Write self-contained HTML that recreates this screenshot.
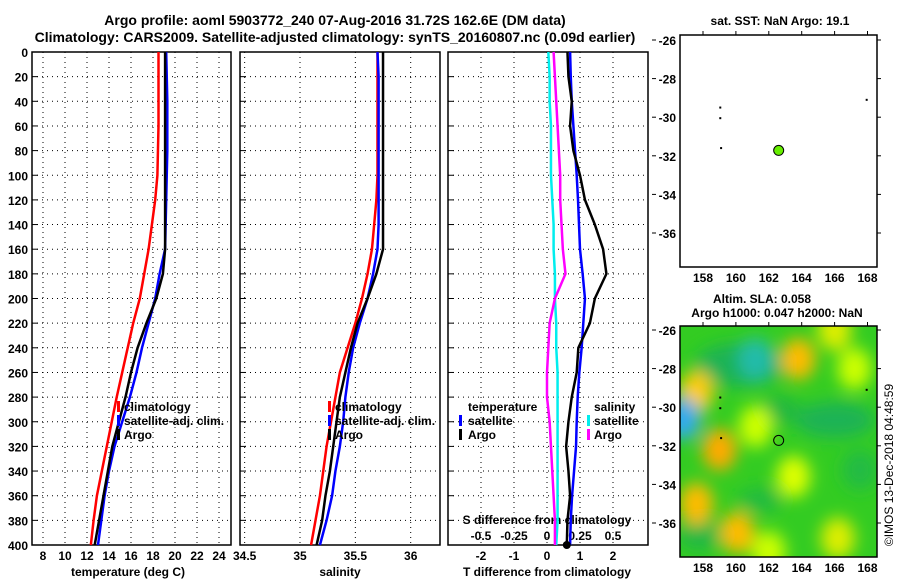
<!DOCTYPE html>
<html><head><meta charset="utf-8"><style>
body{margin:0;background:#fff}
svg{display:block;font-family:"Liberation Sans",sans-serif;font-weight:bold}
</style></head><body>
<svg id="s" width="900" height="580" viewBox="0 0 900 580" xmlns="http://www.w3.org/2000/svg">
<defs>
<filter id="bl" x="-50%" y="-50%" width="200%" height="200%"><feGaussianBlur stdDeviation="8"/></filter>
<clipPath id="mc"><rect x="680" y="326" width="197" height="231"/></clipPath>
</defs>
<text x="335" y="25" font-size="14" text-anchor="middle">Argo profile: aoml 5903772_240 07-Aug-2016 31.72S 162.6E (DM data)</text>
<text x="335" y="42" font-size="14" text-anchor="middle">Climatology: CARS2009. Satellite-adjusted climatology: synTS_20160807.nc (0.09d earlier)</text>
<g id="g"></g>
<text x="780" y="25" font-size="12" text-anchor="middle">sat. SST: NaN Argo: 19.1</text>
<text x="762" y="303" font-size="12" text-anchor="middle">Altim. SLA: 0.058</text>
<text x="777" y="317" font-size="12" text-anchor="middle">Argo h1000: 0.047 h2000: NaN</text>
<text transform="translate(893,465) rotate(-90)" font-size="12" font-weight="normal" text-anchor="middle">©IMOS 13-Dec-2018 04:48:59</text>
</svg>
<script>
const depths=[0,20,40,60,80,100,120,140,160,180,200,220,240,260,280,300,320,340,360,380,400];
const tClim=[18.5,18.5,18.5,18.5,18.45,18.4,18.2,17.9,17.6,17.2,16.8,16.2,15.7,15.2,14.7,14.25,13.8,13.35,12.9,12.6,12.35];
const tSat=[19.2,19.25,19.3,19.3,19.3,19.25,19.2,19.15,19.1,18.6,18.2,17.6,17.0,16.5,15.9,15.2,14.5,14.0,13.6,13.3,13.0];
const tArgo=[19.1,19.1,19.1,19.1,19.1,19.1,19.1,19.1,19.1,18.9,18.3,17.4,16.6,16.0,15.5,14.9,14.3,13.9,13.5,13.1,12.7];
const sClim=[35.70,35.70,35.70,35.70,35.70,35.70,35.69,35.67,35.65,35.61,35.56,35.50,35.43,35.36,35.32,35.28,35.24,35.21,35.18,35.14,35.10];
const sSat=[35.70,35.71,35.71,35.71,35.71,35.71,35.71,35.71,35.70,35.66,35.61,35.54,35.48,35.44,35.41,35.39,35.36,35.32,35.29,35.24,35.18];
const sArgo=[35.75,35.75,35.75,35.75,35.75,35.75,35.75,35.75,35.75,35.69,35.61,35.52,35.46,35.41,35.36,35.33,35.30,35.27,35.23,35.20,35.15];
const dTsat=[0.7,0.72,0.75,0.8,0.85,0.9,0.94,0.97,1.0,1.08,1.15,1.1,1.05,0.98,0.93,0.9,0.88,0.82,0.76,0.72,0.7];
const dTargo=[0.62,0.65,0.75,0.7,0.8,1.0,1.15,1.45,1.7,1.8,1.45,1.3,0.95,0.9,0.75,0.65,0.58,0.65,0.7,0.62,0.6];
const dSargo=[0.05,0.06,0.07,0.08,0.09,0.1,0.1,0.11,0.12,0.14,0.06,0.02,0.01,0.0,0.0,0.02,0.03,0.04,0.05,0.06,0.06];
const dSsat=[0.01,0.02,0.02,0.03,0.03,0.03,0.04,0.05,0.05,0.06,0.06,0.07,0.07,0.08,0.08,0.08,0.08,0.08,0.08,0.08,0.07];
const depthTicks=[0,20,40,60,80,100,120,140,160,180,200,220,240,260,280,300,320,340,360,380,400];
const tTicks=[8,10,12,14,16,18,20,22,24];
const sTicks=[34.5,35,35.5,36];
const dTTicks=[-2,-1,0,1,2];
const dSTicks=[-0.5,-0.25,0,0.25,0.5];
const latTicks=[-26,-28,-30,-32,-34,-36];
const lonTicks=[158,160,162,164,166,168];
const floatPos=[162.6,-31.72];
const islands=[[159.05,-29.5],[159.05,-30.05],[159.1,-31.6],[167.95,-29.1]];
const blobLon=[163.8,157.6,156.8,159.0,163.5,161.2,160.1,166.2,167.2,157.6,161.2,166.0,162.0];
const blobLat=[-27.5,-29.2,-30.6,-32.2,-33.6,-31.0,-36.5,-36.8,-28.0,-35.0,-27.5,-26.0,-37.5];
const blobCol=['#ffbb00','#ffcc00','#33aaee','#ffaa00','#ddff00','#ccff00','#ffbb00','#ddee00','#ccff00','#ffbb00','#22bbaa','#ddee00','#ccff00'];

const NS='http://www.w3.org/2000/svg';
const G=document.getElementById('g');
function mk(t,a,p){const e=document.createElementNS(NS,t);for(const k in a)e.setAttribute(k,a[k]);(p||G).appendChild(e);return e;}
const Y0=52,Y1=545;
const yD=d=>Y0+(d/400)*(Y1-Y0);
const xT=v=>32+(v-7)*11;
const xS=v=>300+(v-35)*110.7;
const xdT=v=>547+v*33;
const xdS=v=>547+v*132;
const panels=[[32,231],[240,440],[448,648]];
function vgrid(xs,name){xs.forEach(x=>{const l=mk('line',{x1:x,y1:Y0,x2:x,y2:Y1,stroke:'#000','stroke-width':1,'stroke-dasharray':'1,4'});});}
vgrid(tTicks.map(xT),'temp-gridline');
vgrid(sTicks.map(xS),'salinity-gridline');
vgrid(dTTicks.map(xdT),'tdiff-gridline');
panels.forEach(([a,b])=>{depthTicks.forEach(d=>{if(d==0||d==400)return;const l=mk('line',{x1:a,y1:yD(d),x2:b,y2:yD(d),stroke:'#000','stroke-dasharray':'1,4'});
const t=mk('line',{x1:a,y1:yD(d),x2:a+6,y2:yD(d),stroke:'#000'});});
const r=mk('rect',{x:a,y:Y0,width:b-a,height:Y1-Y0,fill:'none',stroke:'#000','stroke-width':1.5});});
depthTicks.forEach(d=>{const t=mk('text',{x:28,y:yD(d)+5,'font-size':12,'text-anchor':'end'});t.textContent=d;});
function xlabels(ticks,fx,y,name,fmt){ticks.forEach(v=>{const t=mk('text',{x:fx(v),y:y,'font-size':12,'text-anchor':'middle'});t.textContent=fmt?fmt(v):v;});}
xlabels(tTicks,xT,560,'temp-tick-label');
xlabels(sTicks,xS,560,'salinity-tick-label');
xlabels(dTTicks,xdT,560,'tdiff-tick-label');
xlabels(dSTicks,xdS,540,'sdiff-tick-label');
[['temperature (deg C)',128,'temp-axis-title'],['salinity',340,'salinity-axis-title'],['T difference from climatology',547,'tdiff-axis-title']].forEach(([s,x,n])=>{const t=mk('text',{x:x,y:576,'font-size':12,'text-anchor':'middle'});t.textContent=s;});
{const t=mk('text',{x:547,y:524,'font-size':12,'text-anchor':'middle'});t.textContent='S difference from climatology';}
function line(vals,fx,col,name){const p=mk('polyline',{points:vals.map((v,i)=>fx(v)+','+yD(depths[i])).join(' '),fill:'none',stroke:col,'stroke-width':2.5});}
line(tClim,xT,'#f00','temp-climatology-line');line(tSat,xT,'#00f','temp-satellite-line');line(tArgo,xT,'#000','temp-argo-line');
line(sClim,xS,'#f00','sal-climatology-line');line(sSat,xS,'#00f','sal-satellite-line');line(sArgo,xS,'#000','sal-argo-line');
line(dSsat,xdS,'#0ee','sdiff-satellite-line');line(dSargo,xdS,'#f0f','sdiff-argo-line');line(dTsat,xdT,'#00f','tdiff-satellite-line');line(dTargo,xdT,'#000','tdiff-argo-line');
mk('circle',{cx:xdT(dTargo[20]),cy:Y1,r:4,fill:'#000'});
function legend(x,tx,items){items.forEach(([c,s,yy])=>{if(c){const b=mk('rect',{x:x,y:yy-10,width:3,height:11,fill:c});}
const t=mk('text',{x:tx,y:yy,'font-size':12});t.textContent=s;});}
legend(117,124,[['#f00','climatology',411],['#00f','satellite-adj. clim.',425],['#000','Argo',439]]);
legend(328,335,[['#f00','climatology',411],['#00f','satellite-adj. clim.',425],['#000','Argo',439]]);
legend(459,468,[[null,'temperature',411],['#00f','satellite',425],['#000','Argo',439]]);
legend(587,594,[[null,'salinity',411],['#0ee','satellite',425],['#f0f','Argo',439]]);
function mapAxes(top,bot,lat26,lat36,name){
 const xL=v=>703+(v-158)*16.45, yL=v=>lat26+(v+26)/(-10)*(lat36-lat26);
 const r=mk('rect',{x:680,y:top,width:197,height:bot-top,fill:'none',stroke:'#000','stroke-width':1.5});
 lonTicks.forEach(v=>{mk('line',{x1:xL(v),y1:top,x2:xL(v),y2:top-4,stroke:'#000'});const t=mk('text',{x:xL(v),y:bot+15,'font-size':12,'text-anchor':'middle'});t.textContent=v;});
 latTicks.forEach(v=>{mk('line',{x1:877,y1:yL(v),x2:881,y2:yL(v),stroke:'#000'});mk('line',{x1:652,y1:yL(v),x2:656,y2:yL(v),stroke:'#000'});const t=mk('text',{x:676,y:yL(v)+5,'font-size':12,'text-anchor':'end'});t.textContent=v;});
 return [xL,yL];
}
const [hx,hy]=[v=>703+(v-158)*16.45,v=>330+(v+26)/(-10)*193];
const hm=mk('g',{'clip-path':'url(#mc)'});
mk('rect',{x:680,y:326,width:197,height:231,fill:'#33cc22'},hm);
const bg=mk('g',{filter:'url(#bl)'},hm);
[[740,365,'#1fb355',45,22],[835,420,'#1fb355',40,18],[700,535,'#22b844',22,16],[780,410,'#22b840',20,14],[860,470,'#22bb44',18,20],[760,500,'#22bb40',22,12]].forEach(a=>mk('ellipse',{cx:a[0],cy:a[1],rx:a[3],ry:a[4],fill:a[2]},bg));
blobLon.forEach((v,i)=>{const e=mk('ellipse',{cx:hx(v),cy:hy(blobLat[i]),rx:17,ry:21,fill:blobCol[i]},bg);});
const [x1,y1]=mapAxes(35,267,40,233,'sst-map');
const [x2,y2]=mapAxes(326,557,330,523,'sla-map');
islands.forEach(p=>{mk('rect',{x:x1(p[0])-1,y:y1(p[1])-1,width:2,height:2,fill:'#000'});mk('rect',{x:x2(p[0])-1,y:y2(p[1])-1,width:2,height:2,fill:'#000'});});
{const c=mk('circle',{cx:x1(floatPos[0]),cy:y1(floatPos[1]),r:5,fill:'#66ee00',stroke:'#000'});
const c2=mk('circle',{cx:x2(floatPos[0]),cy:y2(floatPos[1]),r:5,fill:'none',stroke:'#000'});}
</script>
</body></html>
